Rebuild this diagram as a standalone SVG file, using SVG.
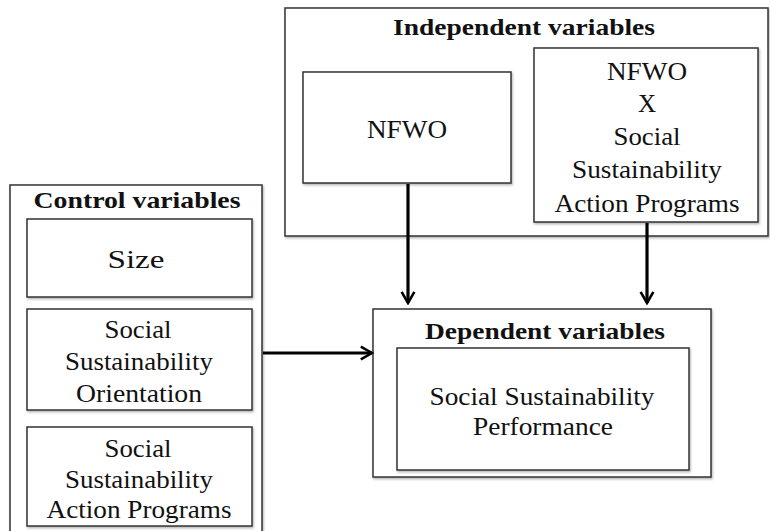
<svg xmlns="http://www.w3.org/2000/svg" width="770" height="531" viewBox="0 0 770 531">
<defs>
<filter id="sh" x="-10%" y="-10%" width="120%" height="120%">
<feDropShadow dx="1" dy="1.5" stdDeviation="1" flood-color="#000" flood-opacity="0.3"/>
</filter>
<marker id="ah" viewBox="0 0 20 20" refX="17" refY="10" markerWidth="5" markerHeight="5" markerUnits="strokeWidth" orient="auto">
<path d="M3,2 L17,10 L3,18" fill="none" stroke="#000" stroke-width="3.2" stroke-linejoin="miter"/>
</marker>
</defs>
<style>
rect{fill:#fff;stroke:#333;stroke-width:1.5;filter:url(#sh)}
text{fill:#111;text-anchor:middle}
.t{font-size:25px}
.b{font-size:23px;font-weight:bold}
.c{fill:none;stroke:#000;stroke-width:3.2;marker-end:url(#ah)}
</style>
<rect x="0" y="0" width="770" height="531" style="fill:#fff;stroke:none;filter:none"/>
<g font-family="Liberation Serif, Times New Roman, serif">
<g id="independent">
<rect x="285" y="8" width="483" height="228"/>
<text class="b" x="524" y="35" textLength="262" lengthAdjust="spacingAndGlyphs">Independent variables</text>
</g>
<g id="nfwo">
<rect x="303" y="72" width="208" height="111"/>
<text class="t" x="407" y="138" textLength="80" lengthAdjust="spacingAndGlyphs">NFWO</text>
</g>
<g id="nfwo-x-ssap">
<rect x="534" y="48" width="224" height="174"/>
<text class="t" x="647" y="80" textLength="80" lengthAdjust="spacingAndGlyphs">NFWO</text>
<text class="t" x="647" y="112">X</text>
<text class="t" x="647" y="145" textLength="67" lengthAdjust="spacingAndGlyphs">Social</text>
<text class="t" x="647" y="178" textLength="150" lengthAdjust="spacingAndGlyphs">Sustainability</text>
<text class="t" x="647" y="212" textLength="185" lengthAdjust="spacingAndGlyphs">Action Programs</text>
</g>
<g id="control">
<rect x="10" y="185" width="252" height="360"/>
<text class="b" x="137" y="208" textLength="207" lengthAdjust="spacingAndGlyphs">Control variables</text>
</g>
<g id="size">
<rect x="27" y="219" width="225" height="78"/>
<text class="t" x="136" y="268" textLength="57" lengthAdjust="spacingAndGlyphs">Size</text>
</g>
<g id="sso">
<rect x="27" y="309" width="225" height="101"/>
<text class="t" x="138" y="338" textLength="67" lengthAdjust="spacingAndGlyphs">Social</text>
<text class="t" x="139" y="370" textLength="148" lengthAdjust="spacingAndGlyphs">Sustainability</text>
<text class="t" x="139" y="402" textLength="126" lengthAdjust="spacingAndGlyphs">Orientation</text>
</g>
<g id="ssap">
<rect x="27" y="427" width="225" height="99"/>
<text class="t" x="138" y="457" textLength="67" lengthAdjust="spacingAndGlyphs">Social</text>
<text class="t" x="139" y="488" textLength="148" lengthAdjust="spacingAndGlyphs">Sustainability</text>
<text class="t" x="139" y="518" textLength="185" lengthAdjust="spacingAndGlyphs">Action Programs</text>
</g>
<g id="dependent">
<rect x="373" y="309" width="338" height="168"/>
<text class="b" x="545" y="339" textLength="240" lengthAdjust="spacingAndGlyphs">Dependent variables</text>
</g>
<g id="ssp">
<rect x="397" y="348" width="292" height="122"/>
<text class="t" x="542" y="405" textLength="225" lengthAdjust="spacingAndGlyphs">Social Sustainability</text>
<text class="t" x="543" y="435" textLength="140" lengthAdjust="spacingAndGlyphs">Performance</text>
</g>
</g>
<g id="connectors">
<path class="c" d="M408,184 L408,303"/>
<path class="c" d="M647,223 L647,303"/>
<path class="c" d="M263,353 L372,353"/>
</g>
</svg>
